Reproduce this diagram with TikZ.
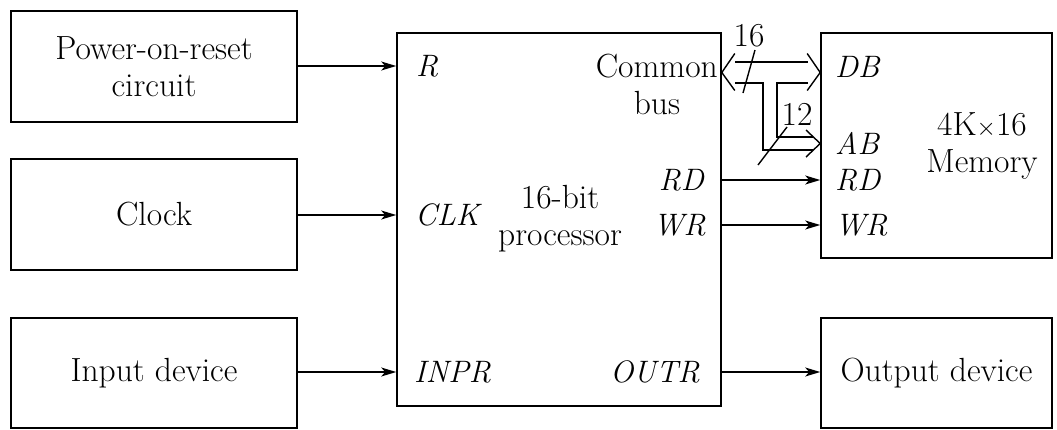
\documentclass[tikz,border=0pt]{standalone}
\usetikzlibrary{arrows.meta, calc}

\newcommand{\figfont}{\fontsize{33.5}{37}\selectfont}
\tikzset{
    blockbox/.style={draw, line width=1.6pt, inner sep=0pt},
    sig/.style={line width=1.4pt, -{Stealth[length=15pt, width=9pt, inset=4pt]}},
    bus/.style={line width=1.4pt},
    pin/.style={font=\fontsize{31}{36}\selectfont\itshape, inner sep=0pt}
}

\begin{document}
\begin{tikzpicture}[x=1pt, y=-1pt, font=\figfont]
    \useasboundingbox (0,0) rectangle (1057,429);
    % External blocks on the left
    \node[blockbox, minimum width=286pt, minimum height=111pt, align=center] (por) at (154, 66.5) {Power-on-reset\\circuit};
    \node[blockbox, minimum width=286pt, minimum height=111pt] (clock) at (154, 214.5) {Clock};
    \node[blockbox, minimum width=286pt, minimum height=110pt] (indev) at (154, 373) {Input device};
    % Processor, memory and output
    \node[blockbox, minimum width=324pt, minimum height=373pt] (proc) at (559, 219.5) {};
    \node[blockbox, minimum width=231pt, minimum height=225pt] (mem) at (936.5, 145.5) {};
    \node[blockbox, minimum width=231pt, minimum height=110pt] (outdev) at (936.5, 373) {Output device};
    % Processor labels
    \node[pin, anchor=west] (pR) at (416, 66) {R};
    \node[pin, anchor=west] (pCLK) at (415, 215) {CLK};
    \node[pin, anchor=west] (pINPR) at (414, 372) {INPR};
    \node[pin, anchor=east] (pRD) at (704, 180) {RD};
    \node[pin, anchor=east] (pWR) at (706, 225) {WR};
    \node[pin, anchor=east] (pOUTR) at (700, 372) {OUTR};
    \node[align=center] (ptitle) at (560, 219) {16-bit\\processor};
    \node[anchor=east, inner sep=0pt] (cbus) at (718, 66) {Common};
    \node[inner sep=0pt] (cbus2) at (657, 103) {bus};
    % Memory labels
    \node[pin, anchor=west] (mDB) at (835, 67) {DB};
    \node[pin, anchor=west] (mAB) at (835, 143) {AB};
    \node[pin, anchor=west] (mRD) at (835, 180) {RD};
    \node[pin, anchor=west] (mWR) at (835, 225) {WR};
    \node[align=center] (mtitle) at (982, 146) {4K$\times$16\\Memory};
    % Control signals
    \draw[sig] (por.east |- pR) -- (proc.west |- pR);
    \draw[sig] (clock.east |- pCLK) -- (proc.west |- pCLK);
    \draw[sig] (indev.east |- pINPR) -- (proc.west |- pINPR);
    \draw[sig] (proc.east |- pRD) -- (mem.west |- pRD);
    \draw[sig] (proc.east |- pWR) -- (mem.west |- pWR);
    \draw[sig] (proc.east |- pOUTR) -- (outdev.west |- pOUTR);
    % Common bus, double line with open heads
    \coordinate (bl) at (proc.east |- 0,72.5);
    \coordinate (br) at (mem.west |- 0,72.5);
    \coordinate (ab) at (mem.west |- 0,143.5);
    \draw[bus] ($(bl)+(13,-19)$) -- (bl) -- ($(bl)+(13,18)$);
    \draw[bus] ($(br)+(-13,-19)$) -- (br) -- ($(br)+(-13,18)$);
    \draw[bus] (735,62) -- (808,62);
    \draw[bus] (735,83) -- (763,83) -- (763,150) -- (813,150);
    \draw[bus] (808,83) -- (777,83) -- (777,137) -- (813,137);
    \draw[bus] (806,130) -- (ab) -- (806,157);
    % Bus widths
    \draw[bus] (743,93) -- (755,50);
    \node[inner sep=0pt] (w16) at (749,36) {16};
    \draw[bus] (758,165) -- (787,127);
    \node[inner sep=0pt] (w12) at (797,114) {12};
\end{tikzpicture}
\end{document}
